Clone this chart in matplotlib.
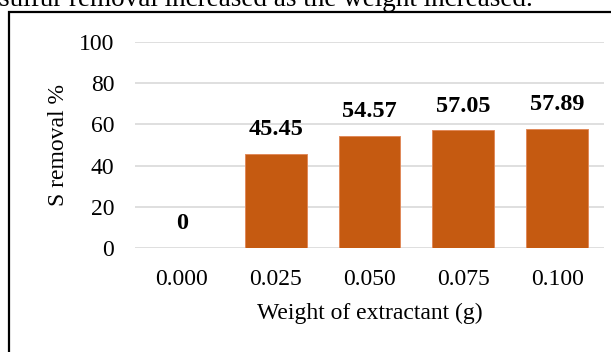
import matplotlib
matplotlib.use("Agg")
import matplotlib.pyplot as plt
from matplotlib.patches import Rectangle

weights = ["0.000", "0.025", "0.050", "0.075", "0.100"]
s_removal = [0, 45.45, 54.57, 57.05, 57.89]
y_ticks = [0, 20, 40, 60, 80, 100]

plt.rcParams["font.family"] = ["Liberation Serif", "DejaVu Serif"]

W, H = 611, 352
fig = plt.figure(figsize=(W / 100, H / 100), dpi=100)

# sentence above the chart frame (only its lower part is visible)
fig.text(-0.002, 1 - 6 / H, "sulfur removal increased as the weight increased.",
         fontsize=19.5, va="baseline", ha="left")

# chart frame
fig.patches.append(Rectangle((9 / W, -0.05), 1.0, 1 - 12 / H + 0.05,
                             transform=fig.transFigure, fill=False,
                             edgecolor="black", linewidth=1.6))

ax = fig.add_axes([135 / W, 1 - 248 / H, (604 - 135) / W, (248 - 42) / H])
x = range(len(weights))
bars = ax.bar(x, s_removal, width=0.66, color="#C55A11",
              edgecolor="#E0895A", linewidth=0.7, zorder=3)
for b, v in zip(bars, s_removal):
    ax.annotate(f"{v:g}", (b.get_x() + b.get_width() / 2, v),
                xytext=(0, 10), textcoords="offset points",
                ha="center", va="bottom", fontsize=17.5, fontweight="bold")

ax.set_xlim(-0.5, len(weights) - 0.5)
ax.set_ylim(0, 100)
ax.set_yticks(y_ticks)
ax.set_xticks(list(x))
ax.set_xticklabels(weights)
ax.grid(axis="y", color="#D9D9D9", linewidth=1.2, zorder=0)
for s in ax.spines.values():
    s.set_visible(False)
ax.tick_params(axis="both", length=0, labelsize=17)
ax.tick_params(axis="x", pad=15)
ax.tick_params(axis="y", pad=15)
ax.set_xlabel("Weight of extractant (g)", fontsize=17, labelpad=9)
ax.set_ylabel("S removal %", fontsize=17, labelpad=7)

fig.savefig("out.png", dpi=100)
